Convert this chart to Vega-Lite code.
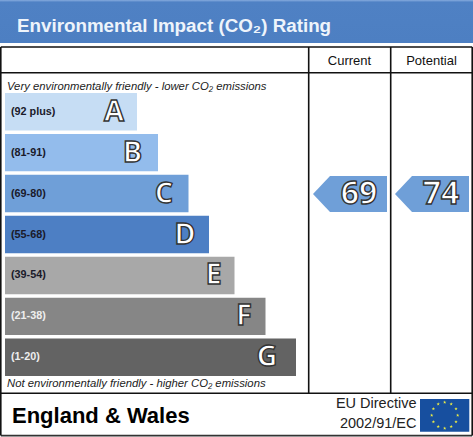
{
"$schema":"https://vega.github.io/schema/vega-lite/v6.json",
"width":473,"height":437,"padding":0,"autosize":{"type":"none"},"background":"white",
"config":{"view":{"stroke":null},"text":{"font":"Liberation Sans"}},
"datasets":{
"bands":[
{"band":"A","range":"(92 plus)","end":137},
{"band":"B","range":"(81-91)","end":158},
{"band":"C","range":"(69-80)","end":188.5},
{"band":"D","range":"(55-68)","end":209},
{"band":"E","range":"(39-54)","end":234.5},
{"band":"F","range":"(21-38)","end":265.5},
{"band":"G","range":"(1-20)","end":296}],
"ratings":[{"rating":"Current","score":69,"band":"C"},{"rating":"Potential","score":74,"band":"C"}]
},
"resolve":{"scale":{"x":"independent","y":"independent"}},
"layer":[
{"data":{"name":"bands"},
"resolve":{"scale":{"x":"independent"}},
"encoding":{
"y":{"field":"band","type":"nominal","axis":null,"scale":{"domain":["A","B","C","D","E","F","G"],"range":[93,376],"paddingInner":0.0854,"paddingOuter":0}}
},
"layer":[
{"mark":{"type":"bar","cornerRadius":0},
"encoding":{
"x":{"field":"end","type":"quantitative","axis":null,"scale":{"domain":[0,473],"nice":false,"zero":false}},
"x2":{"datum":5},
"color":{"field":"band","type":"nominal","legend":null,"scale":{"domain":["A","B","C","D","E","F","G"],"range":["#c6ddf4","#93bcec","#6f9fd8","#4d7fc4","#a8a8a8","#868686","#636363"]}}
}},
{"mark":{"type":"text","align":"left","baseline":"middle","fontWeight":"bold","fontSize":10.8},
"encoding":{
"x":{"datum":11,"type":"quantitative","axis":null,"scale":{"domain":[0,473],"nice":false,"zero":false}},
"text":{"field":"range"},
"color":{"condition":{"test":"datum.band==='F'||datum.band==='G'","value":"#eeeeee"},"value":"#1a1a2a"}
}},
{"mark":{"type":"text","align":"center","baseline":"middle","font":"Open Sans","fontWeight":"bold","fontSize":29,"fill":"white","stroke":"#333333","strokeWidth":1.4},
"encoding":{
"x":{"field":"end","type":"quantitative","axis":null,"scale":{"domain":[137,158,188.5,209,234.5,265.5,296],"range":[114,132.5,164,185,213.5,244,267],"nice":false,"zero":false}},
"text":{"field":"band"}
}}
]},
{"data":{"name":"ratings"},
"encoding":{
"y":{"field":"band","type":"nominal","axis":null,"scale":{"domain":["A","B","C","D","E","F","G"],"range":[93,376],"paddingInner":0.0854,"paddingOuter":0}},
"x":{"field":"rating","type":"nominal","axis":null,"scale":{"type":"point","domain":["Current","Potential"],"range":[350,432],"padding":0}}
},
"layer":[
{"mark":{"type":"point","filled":true,"opacity":1,"size":4,"color":"#6f9fd8","shape":"M-37,0 L-20,-18 L37,-18 L37,18 L-20,18 Z"}},
{"mark":{"type":"text","align":"center","baseline":"middle","font":"Open Sans","fontWeight":"bold","fontSize":32,"dx":9,"fill":"white","stroke":"#333333","strokeWidth":1.4},
"encoding":{"text":{"field":"score","type":"quantitative"}}}
]},
{"data":{"name":"ratings"},
"mark":{"type":"text","align":"center","baseline":"middle","fontSize":13,"color":"#111111"},
"encoding":{
"x":{"field":"rating","type":"nominal","axis":null,"scale":{"type":"point","domain":["Current","Potential"],"range":[349.5,431.5],"padding":0}},
"y":{"datum":61,"type":"quantitative","axis":null,"scale":{"domain":[437,0],"nice":false,"zero":false}},
"text":{"field":"rating"}
}},
{"data":{"values":[{}]},
"encoding":{
"x":{"datum":0,"type":"quantitative","axis":null,"scale":{"domain":[0,473],"nice":false,"zero":false}},
"y":{"datum":0,"type":"quantitative","axis":null,"scale":{"domain":[437,0],"nice":false,"zero":false}}
},
"layer":[
{"mark":{"type":"rect","color":{"gradient":"linear","x1":0,"y1":0,"x2":0,"y2":1,"stops":[{"offset":0,"color":"#86abde"},{"offset":0.05,"color":"#4f81c4"},{"offset":1,"color":"#4d7fc2"}]}},
"encoding":{"x2":{"datum":473},"y2":{"datum":43}}},
{"mark":{"type":"text","align":"left","baseline":"middle","fontWeight":"bold","fontSize":18.8,"color":"#eef4fb"},
"encoding":{"x":{"datum":17},"y":{"datum":25.5},"text":{"value":"Environmental Impact (CO₂) Rating"}}},
{"mark":{"type":"rule","color":"#111111","strokeWidth":1.6},"encoding":{"x":{"datum":0.8},"x2":{"datum":472.2},"y":{"datum":47}}},
{"mark":{"type":"rule","color":"#111111","strokeWidth":1.6},"encoding":{"x":{"datum":0.8},"x2":{"datum":472.2},"y":{"datum":72.7}}},
{"mark":{"type":"rule","color":"#111111","strokeWidth":1.6},"encoding":{"x":{"datum":0.8},"x2":{"datum":472.2},"y":{"datum":393.3}}},
{"mark":{"type":"rule","color":"#333333","strokeWidth":1.6},"encoding":{"x":{"datum":0.8},"x2":{"datum":472.2},"y":{"datum":435.6}}},
{"mark":{"type":"rule","color":"#111111","strokeWidth":1.6},"encoding":{"x":{"datum":0.8},"y":{"datum":47},"y2":{"datum":435.6}}},
{"mark":{"type":"rule","color":"#111111","strokeWidth":1.6},"encoding":{"x":{"datum":472.2},"y":{"datum":47},"y2":{"datum":435.6}}},
{"mark":{"type":"rule","color":"#111111","strokeWidth":1.6},"encoding":{"x":{"datum":308.7},"y":{"datum":47},"y2":{"datum":393.3}}},
{"mark":{"type":"rule","color":"#111111","strokeWidth":1.6},"encoding":{"x":{"datum":390.7},"y":{"datum":47},"y2":{"datum":393.3}}},
{"mark":{"type":"text","align":"left","baseline":"middle","fontStyle":"italic","fontSize":11.3,"color":"#222222"},
"encoding":{"x":{"datum":7},"y":{"datum":86.5},"text":{"value":"Very environmentally friendly - lower CO₂ emissions"}}},
{"mark":{"type":"text","align":"left","baseline":"middle","fontStyle":"italic","fontSize":11.3,"color":"#222222"},
"encoding":{"x":{"datum":7},"y":{"datum":383.5},"text":{"value":"Not environmentally friendly - higher CO₂ emissions"}}},
{"mark":{"type":"text","align":"left","baseline":"middle","fontWeight":"bold","fontSize":22,"color":"#000000"},
"encoding":{"x":{"datum":12},"y":{"datum":416},"text":{"value":"England & Wales"}}},
{"mark":{"type":"text","align":"right","baseline":"middle","fontSize":14.5,"color":"#222222"},
"encoding":{"x":{"datum":416.5},"y":{"datum":403.5},"text":{"value":"EU Directive"}}},
{"mark":{"type":"text","align":"right","baseline":"middle","fontSize":14.5,"color":"#222222"},
"encoding":{"x":{"datum":416.5},"y":{"datum":424},"text":{"value":"2002/91/EC"}}},
{"mark":{"type":"rect","color":"#174f9f"},"encoding":{"x":{"datum":420},"x2":{"datum":469.3},"y":{"datum":399},"y2":{"datum":431.7}}},
{"mark":{"type":"point","filled":true,"opacity":1,"size":4,"color":"#eeee44","shape":"M0,-14.8 l.41,1.23 l1.3,.01 l-1.04,.78 l.39,1.24 l-1.06,-.76 l-1.06,.76 l.39,-1.24 l-1.04,-.78 l1.3,-.01 z M6.5,-13.1 l.41,1.23 l1.3,.01 l-1.04,.78 l.39,1.24 l-1.06,-.76 l-1.06,.76 l.39,-1.24 l-1.04,-.78 l1.3,-.01 z M11.3,-8.3 l.41,1.23 l1.3,.01 l-1.04,.78 l.39,1.24 l-1.06,-.76 l-1.06,.76 l.39,-1.24 l-1.04,-.78 l1.3,-.01 z M13,-1.8 l.41,1.23 l1.3,.01 l-1.04,.78 l.39,1.24 l-1.06,-.76 l-1.06,.76 l.39,-1.24 l-1.04,-.78 l1.3,-.01 z M11.3,4.7 l.41,1.23 l1.3,.01 l-1.04,.78 l.39,1.24 l-1.06,-.76 l-1.06,.76 l.39,-1.24 l-1.04,-.78 l1.3,-.01 z M6.5,9.5 l.41,1.23 l1.3,.01 l-1.04,.78 l.39,1.24 l-1.06,-.76 l-1.06,.76 l.39,-1.24 l-1.04,-.78 l1.3,-.01 z M0,11.2 l.41,1.23 l1.3,.01 l-1.04,.78 l.39,1.24 l-1.06,-.76 l-1.06,.76 l.39,-1.24 l-1.04,-.78 l1.3,-.01 z M-6.5,9.5 l.41,1.23 l1.3,.01 l-1.04,.78 l.39,1.24 l-1.06,-.76 l-1.06,.76 l.39,-1.24 l-1.04,-.78 l1.3,-.01 z M-11.3,4.7 l.41,1.23 l1.3,.01 l-1.04,.78 l.39,1.24 l-1.06,-.76 l-1.06,.76 l.39,-1.24 l-1.04,-.78 l1.3,-.01 z M-13,-1.8 l.41,1.23 l1.3,.01 l-1.04,.78 l.39,1.24 l-1.06,-.76 l-1.06,.76 l.39,-1.24 l-1.04,-.78 l1.3,-.01 z M-11.3,-8.3 l.41,1.23 l1.3,.01 l-1.04,.78 l.39,1.24 l-1.06,-.76 l-1.06,.76 l.39,-1.24 l-1.04,-.78 l1.3,-.01 z M-6.5,-13.1 l.41,1.23 l1.3,.01 l-1.04,.78 l.39,1.24 l-1.06,-.76 l-1.06,.76 l.39,-1.24 l-1.04,-.78 l1.3,-.01 z"},
"encoding":{"x":{"datum":444.7},"y":{"datum":415.3}}}
]}
]}
